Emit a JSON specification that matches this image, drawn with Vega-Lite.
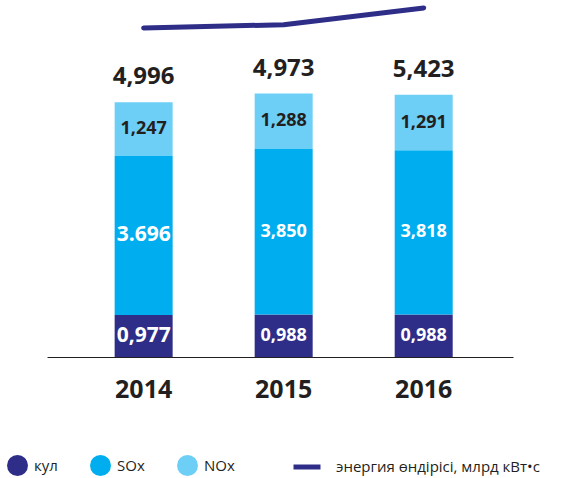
{
  "$schema": "https://vega.github.io/schema/vega-lite/v6.json",
  "width": 466,
  "height": 357,
  "autosize": "none",
  "padding": {"left": 47, "top": 0, "right": 56, "bottom": 121},
  "background": "white",
  "config": {"view": {"stroke": null}, "font": "Open Sans"},
  "datasets": {
    "emis": [
      {"year": "2014", "series": "кул", "o": 1, "value": 0.977, "label": "0,977", "total": "4,996"},
      {"year": "2014", "series": "SOx", "o": 2, "value": 3.696, "label": "3.696", "total": "4,996"},
      {"year": "2014", "series": "NOx", "o": 3, "value": 1.247, "label": "1,247", "total": "4,996"},
      {"year": "2015", "series": "кул", "o": 1, "value": 0.988, "label": "0,988", "total": "4,973"},
      {"year": "2015", "series": "SOx", "o": 2, "value": 3.850, "label": "3,850", "total": "4,973"},
      {"year": "2015", "series": "NOx", "o": 3, "value": 1.288, "label": "1,288", "total": "4,973"},
      {"year": "2016", "series": "кул", "o": 1, "value": 0.988, "label": "0,988", "total": "5,423"},
      {"year": "2016", "series": "SOx", "o": 2, "value": 3.818, "label": "3,818", "total": "5,423"},
      {"year": "2016", "series": "NOx", "o": 3, "value": 1.291, "label": "1,291", "total": "5,423"}
    ],
    "energy": [
      {"year": "2014", "energy": 29.5, "name": "энергия өндірісі, млрд кВт•с"},
      {"year": "2015", "energy": 29.8, "name": "энергия өндірісі, млрд кВт•с"},
      {"year": "2016", "energy": 31.4, "name": "энергия өндірісі, млрд кВт•с"}
    ]
  },
  "resolve": {"scale": {"y": "independent"}},
  "layer": [
    {
      "data": {"name": "emis"},
      "mark": {"type": "bar", "size": 58},
      "encoding": {
        "x": {
          "field": "year", "type": "nominal",
          "scale": {"paddingInner": 0, "paddingOuter": 0.164, "align": 0.58},
          "axis": {"title": null, "labelFont": "Open Sans", "labelFontSize": 25, "labelFontWeight": "bold", "labelColor": "#231f20", "ticks": false, "domainColor": "#231f20", "domainWidth": 1, "labelPadding": 20, "labelAngle": 0}
        },
        "y": {"field": "value", "type": "quantitative", "aggregate": "sum", "stack": "zero", "scale": {"domain": [0, 8.3], "nice": false}, "axis": null},
        "color": {
          "field": "series", "type": "nominal",
          "scale": {"domain": ["кул", "SOx", "NOx"], "range": ["#2e2d88", "#00aeef", "#6dcff6"]},
          "legend": {
            "title": null, "orient": "none", "legendX": -40, "legendY": 455, "direction": "horizontal",
            "padding": 0, "gridAlign": "none", "columnPadding": 32,
            "symbolType": "circle", "symbolSize": 440, "symbolStrokeWidth": 0, "labelOffset": 6,
            "labelFont": "Open Sans", "labelFontSize": 15, "labelColor": "#231f20"
          }
        },
        "order": {"field": "o", "type": "quantitative"}
      }
    },
    {
      "data": {"name": "emis"},
      "transform": [
        {"stack": "value", "groupby": ["year"], "sort": [{"field": "o", "order": "ascending"}], "as": ["v0", "v1"]},
        {"fold": ["v0", "v1"], "as": ["k", "pos"]},
        {"aggregate": [{"op": "mean", "field": "pos", "as": "mid"}], "groupby": ["year", "series", "label"]}
      ],
      "mark": {"type": "text", "fontWeight": "bold", "font": "Open Sans", "baseline": "middle", "align": "center"},
      "encoding": {
        "x": {"field": "year", "type": "nominal"},
        "y": {"field": "mid", "type": "quantitative", "scale": {"domain": [0, 8.3], "nice": false}, "axis": null},
        "text": {"field": "label"},
        "size": {"condition": {"test": "datum.year === '2014' && datum.series !== 'NOx'", "value": 21}, "value": 18},
        "color": {"condition": {"test": "datum.series === 'NOx'", "value": "#231f20"}, "value": "#ffffff"}
      }
    },
    {
      "data": {"name": "emis"},
      "mark": {"type": "text", "fontWeight": "bold", "font": "Open Sans", "fontSize": 24, "baseline": "alphabetic", "align": "center", "dy": -18, "color": "#231f20"},
      "encoding": {
        "x": {"field": "year", "type": "nominal"},
        "y": {"field": "value", "type": "quantitative", "aggregate": "sum", "stack": null, "scale": {"domain": [0, 8.3], "nice": false}, "axis": null},
        "text": {"field": "total"}
      }
    },
    {
      "data": {"name": "energy"},
      "mark": {"type": "line", "strokeWidth": 5, "strokeCap": "round", "strokeJoin": "round"},
      "encoding": {
        "x": {"field": "year", "type": "nominal"},
        "y": {"field": "energy", "type": "quantitative", "scale": {"domain": [-1.75, 32.15], "nice": false, "zero": false}, "axis": null},
        "stroke": {
          "field": "name", "type": "nominal",
          "scale": {"range": ["#2e2d88"]},
          "legend": {
            "title": null, "orient": "none", "legendX": 244, "legendY": 451, "padding": 0,
            "symbolType": "stroke", "symbolSize": 729, "symbolStrokeWidth": 5, "labelOffset": 13,
            "labelFont": "Open Sans", "labelFontSize": 15, "labelColor": "#231f20", "labelLimit": 300
          }
        }
      }
    }
  ]
}
